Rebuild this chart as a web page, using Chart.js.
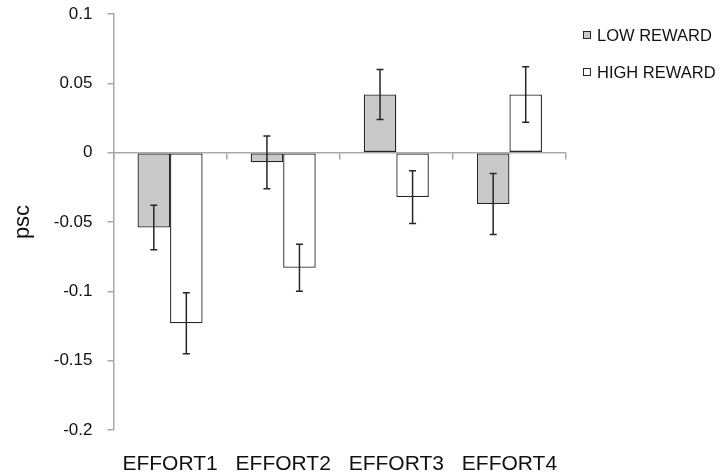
<!DOCTYPE html>
<html>
<head>
<meta charset="utf-8">
<script src="https://cdn.jsdelivr.net/npm/chart.js@4.4.1/dist/chart.umd.min.js"></script>
<style>
  html, body { margin: 0; padding: 0; background: #ffffff; }
  #wrap { width: 724px; height: 475px; position: relative; }
  #legend {
    position: absolute; left: 583px; top: 24px; margin: 0; padding: 0; list-style: none;
    font-family: 'Liberation Sans', Arial, sans-serif; font-size: 16.5px; color: #111111;
  }
  #legend li { display: flex; align-items: center; height: 22px; margin-bottom: 15px; white-space: nowrap; }
  #legend .swatch { display: inline-block; width: 6px; height: 6px; margin-right: 6px; box-sizing: content-box; }
</style>
</head>
<body>
<div id="wrap"><canvas id="chart"></canvas><ul id="legend"></ul></div>
<script>
// Mean percent signal change per effort level, with error bar half-widths
const categories = ['EFFORT1', 'EFFORT2', 'EFFORT3', 'EFFORT4'];
const lowReward = [-0.054, -0.007, 0.042, -0.037];
const lowRewardErr = [0.016, 0.019, 0.018, 0.022];
const highReward = [-0.123, -0.083, -0.032, 0.042];
const highRewardErr = [0.022, 0.017, 0.019, 0.020];
const yTicks = [0.1, 0.05, 0, -0.05, -0.1, -0.15, -0.2];

const FONT = "'Liberation Sans', Arial, sans-serif";
const AXIS_GREY = '#a9a9a9';
const INK = '#262626';

// Vertical error bars with flat caps, centred on each bar
const errorBars = {
  id: 'errorBars',
  afterDatasetsDraw(chart) {
    const ctx = chart.ctx;
    const yScale = chart.scales.y;
    chart.data.datasets.forEach((ds, di) => {
      const meta = chart.getDatasetMeta(di);
      meta.data.forEach((bar, i) => {
        const v = ds.data[i];
        const e = ds.errors[i];
        const top = yScale.getPixelForValue(v + e);
        const bottom = yScale.getPixelForValue(v - e);
        const cap = 3.5;
        ctx.save();
        ctx.strokeStyle = INK;
        ctx.lineWidth = 1.5;
        ctx.beginPath();
        ctx.moveTo(bar.x, top);
        ctx.lineTo(bar.x, bottom);
        ctx.moveTo(bar.x - cap, top);
        ctx.lineTo(bar.x + cap, top);
        ctx.moveTo(bar.x - cap, bottom);
        ctx.lineTo(bar.x + cap, bottom);
        ctx.stroke();
        ctx.restore();
      });
    });
  }
};

// Legend list built from the datasets, placed to the right of the plot
const htmlLegend = {
  id: 'htmlLegend',
  afterUpdate(chart) {
    const list = document.getElementById('legend');
    list.innerHTML = '';
    chart.data.datasets.forEach(ds => {
      const li = document.createElement('li');
      const box = document.createElement('span');
      box.className = 'swatch';
      box.style.background = ds.backgroundColor;
      box.style.border = '1px solid ' + ds.borderColor;
      const text = document.createElement('span');
      text.textContent = ds.label;
      li.appendChild(box);
      li.appendChild(text);
      list.appendChild(li);
    });
  }
};

new Chart(document.getElementById('chart'), {
  type: 'bar',
  data: {
    labels: categories,
    datasets: [
      {
        label: 'LOW REWARD',
        data: lowReward,
        errors: lowRewardErr,
        backgroundColor: '#c9c9c9',
        borderColor: INK,
        borderWidth: 1.3,
        borderSkipped: false
      },
      {
        label: 'HIGH REWARD',
        data: highReward,
        errors: highRewardErr,
        backgroundColor: '#ffffff',
        borderColor: INK,
        borderWidth: 1.3,
        borderSkipped: false
      }
    ]
  },
  options: {
    responsive: true,
    maintainAspectRatio: false,
    animation: false,
    datasets: {
      bar: { categoryPercentage: 0.575, barPercentage: 1.0 }
    },
    layout: { padding: { top: 0, right: 158, bottom: 0, left: 0 } },
    plugins: {
      tooltip: { enabled: false },
      legend: { display: false }
    },
    scales: {
      x: {
        position: 'bottom',
        offset: true,
        grid: { display: false, drawTicks: false },
        border: { display: false },
        ticks: {
          color: '#111111',
          padding: 22,
          font: { family: FONT, size: 21 }
        },
        afterFit(scale) { scale.height = 45; }
      },
      xZero: {
        type: 'category',
        axis: 'x',
        position: { y: 0 },
        offset: true,
        grid: {
          offset: true,
          drawOnChartArea: false,
          drawTicks: true,
          tickLength: 6,
          color: AXIS_GREY,
          lineWidth: 1.5
        },
        border: { color: AXIS_GREY, width: 1.5 },
        ticks: { display: false }
      },
      y: {
        min: -0.2,
        max: 0.1,
        afterBuildTicks(scale) {
          scale.ticks = yTicks.map(v => ({ value: v }));
        },
        grid: {
          drawOnChartArea: false,
          drawTicks: true,
          tickLength: 6,
          color: AXIS_GREY,
          lineWidth: 1.5
        },
        border: { color: AXIS_GREY, width: 1.5 },
        ticks: {
          color: '#111111',
          padding: 15,
          font: { family: FONT, size: 17 },
          callback: v => String(parseFloat(Number(v).toFixed(2)))
        },
        title: {
          display: true,
          text: 'psc',
          color: '#111111',
          padding: { top: 10, bottom: 0 },
          font: { family: FONT, size: 22 }
        },
        afterFit(scale) {
          scale.width = 113.5;
          scale.paddingTop = 14;
        }
      }
    }
  },
  plugins: [errorBars, htmlLegend]
});
</script>
</body>
</html>
